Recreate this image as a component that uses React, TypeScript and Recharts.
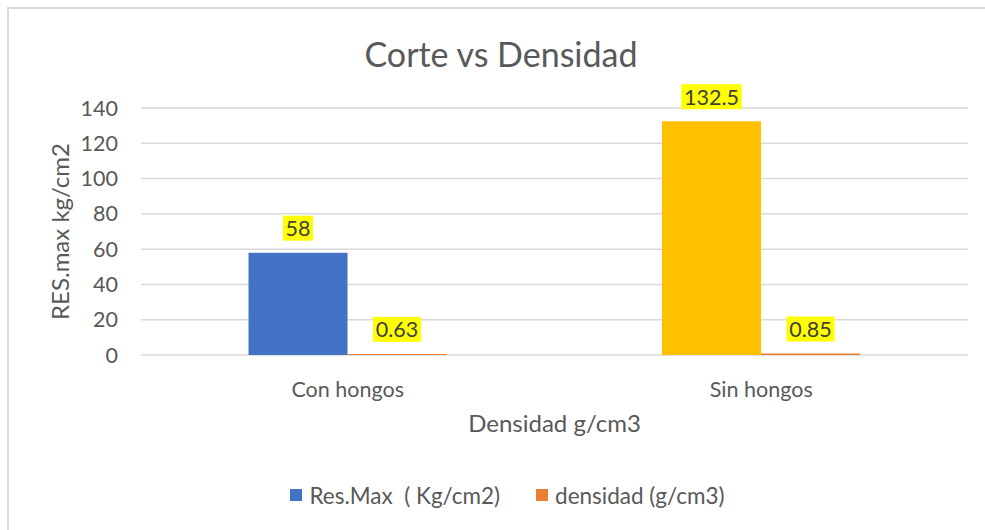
import React from "react";
import {
  BarChart,
  Bar,
  XAxis,
  YAxis,
  CartesianGrid,
  Legend,
  LabelList,
  Cell,
} from "recharts";

document.body.style.margin = "0";

const categories = ["Con hongos", "Sin hongos"];
const resMax = [58, 132.5];
const densidad = [0.63, 0.85];
const resMaxColors = ["#4472C4", "#FFC000"];
const densidadColor = "#ED7D31";
const yTicks = [0, 20, 40, 60, 80, 100, 120, 140];
const seriesNames = ["Res.Max  ( Kg/cm2)", "densidad (g/cm3)"];

const data = categories.map((name, i) => ({
  name,
  res: resMax[i],
  dens: densidad[i],
}));

const FONT = "Lato, 'Open Sans', sans-serif";
const TEXT = "#595959";
const FS = 21.5;
const TITLE_FS = 24;

// Excel-style data label: text on a yellow highlight box above the bar
function DataLabel(props: any) {
  const { x, y, width, value } = props;
  const s = String(value);
  let tw = 0;
  for (const ch of s) tw += ch === "." ? 0.26 * FS : 0.58 * FS;
  const bw = tw + 5;
  const bh = 25;
  const cx = x + width / 2;
  const bottom = y - 12;
  return (
    <g>
      <rect x={cx - bw / 2} y={bottom - bh} width={bw} height={bh} fill="#FFFF00" />
      <text
        x={cx}
        y={bottom - bh / 2}
        textAnchor="middle"
        dominantBaseline="central"
        fill="#404040"
        fontSize={FS}
      >
        {s}
      </text>
    </g>
  );
}

function LegendContent() {
  const colors = [resMaxColors[0], densidadColor];
  return (
    <div
      style={{
        display: "flex",
        justifyContent: "center",
        alignItems: "center",
        height: 24,
        paddingLeft: 30,
        fontSize: 22.5,
        color: TEXT,
      }}
    >
      {seriesNames.map((n, i) => (
        <div
          key={n}
          style={{ display: "flex", alignItems: "center", marginRight: i === 0 ? 36 : 0 }}
        >
          <span
            style={{ width: 12, height: 12, background: colors[i], marginRight: 7, display: "inline-block" }}
          />
          <span style={{ whiteSpace: "pre" }}>{n}</span>
        </div>
      ))}
    </div>
  );
}

export default function App() {
  return (
    <div
      style={{
        position: "relative",
        width: 985,
        height: 530,
        background: "#fff",
        fontFamily: FONT,
        overflow: "hidden",
      }}
    >
      <div
        style={{
          position: "absolute",
          left: 7,
          top: 7,
          width: 990,
          height: 540,
          borderLeft: "2px solid #D9D9D9",
          borderTop: "2px solid #D9D9D9",
        }}
      />
      <div
        style={{
          position: "absolute",
          left: 16,
          top: 37,
          width: 970,
          textAlign: "center",
          fontSize: 34,
          lineHeight: "34px",
          color: TEXT,
        }}
      >
        Corte vs Densidad
      </div>
      <BarChart
        width={985}
        height={530}
        data={data}
        margin={{ top: 108, right: 17, left: 0, bottom: 71 }}
        barCategoryGap="26%"
        barGap={0}
        style={{ position: "absolute", left: 0, top: 0 }}
      >
        <CartesianGrid vertical={false} stroke="#D9D9D9" strokeWidth={1.5} />
        <XAxis
          dataKey="name"
          axisLine={false}
          tickLine={false}
          tick={{ fill: TEXT, fontSize: FS }}
          tickMargin={21}
          height={80}
          label={{
            value: "Densidad g/cm3",
            position: "insideBottom",
            offset: 3,
            style: { fill: TEXT, fontSize: TITLE_FS },
          }}
        />
        <YAxis
          domain={[0, 140]}
          ticks={yTicks}
          width={141}
          axisLine={false}
          tickLine={false}
          tick={{ fill: TEXT, fontSize: FS }}
          tickMargin={17}
          label={{
            value: "RES.max kg/cm2",
            angle: -90,
            position: "insideLeft",
            offset: 60,
            style: { textAnchor: "middle", fill: TEXT, fontSize: TITLE_FS },
          }}
        />
        <Legend
          verticalAlign="bottom"
          content={<LegendContent />}
          wrapperStyle={{ top: 483, left: 0, width: 985 }}
        />
        <Bar dataKey="res" name={seriesNames[0]} fill={resMaxColors[0]} isAnimationActive={false}>
          {data.map((d, i) => (
            <Cell key={d.name} fill={resMaxColors[i]} />
          ))}
          <LabelList dataKey="res" content={<DataLabel />} />
        </Bar>
        <Bar dataKey="dens" name={seriesNames[1]} fill={densidadColor} isAnimationActive={false}>
          <LabelList dataKey="dens" content={<DataLabel />} />
        </Bar>
      </BarChart>
    </div>
  );
}
